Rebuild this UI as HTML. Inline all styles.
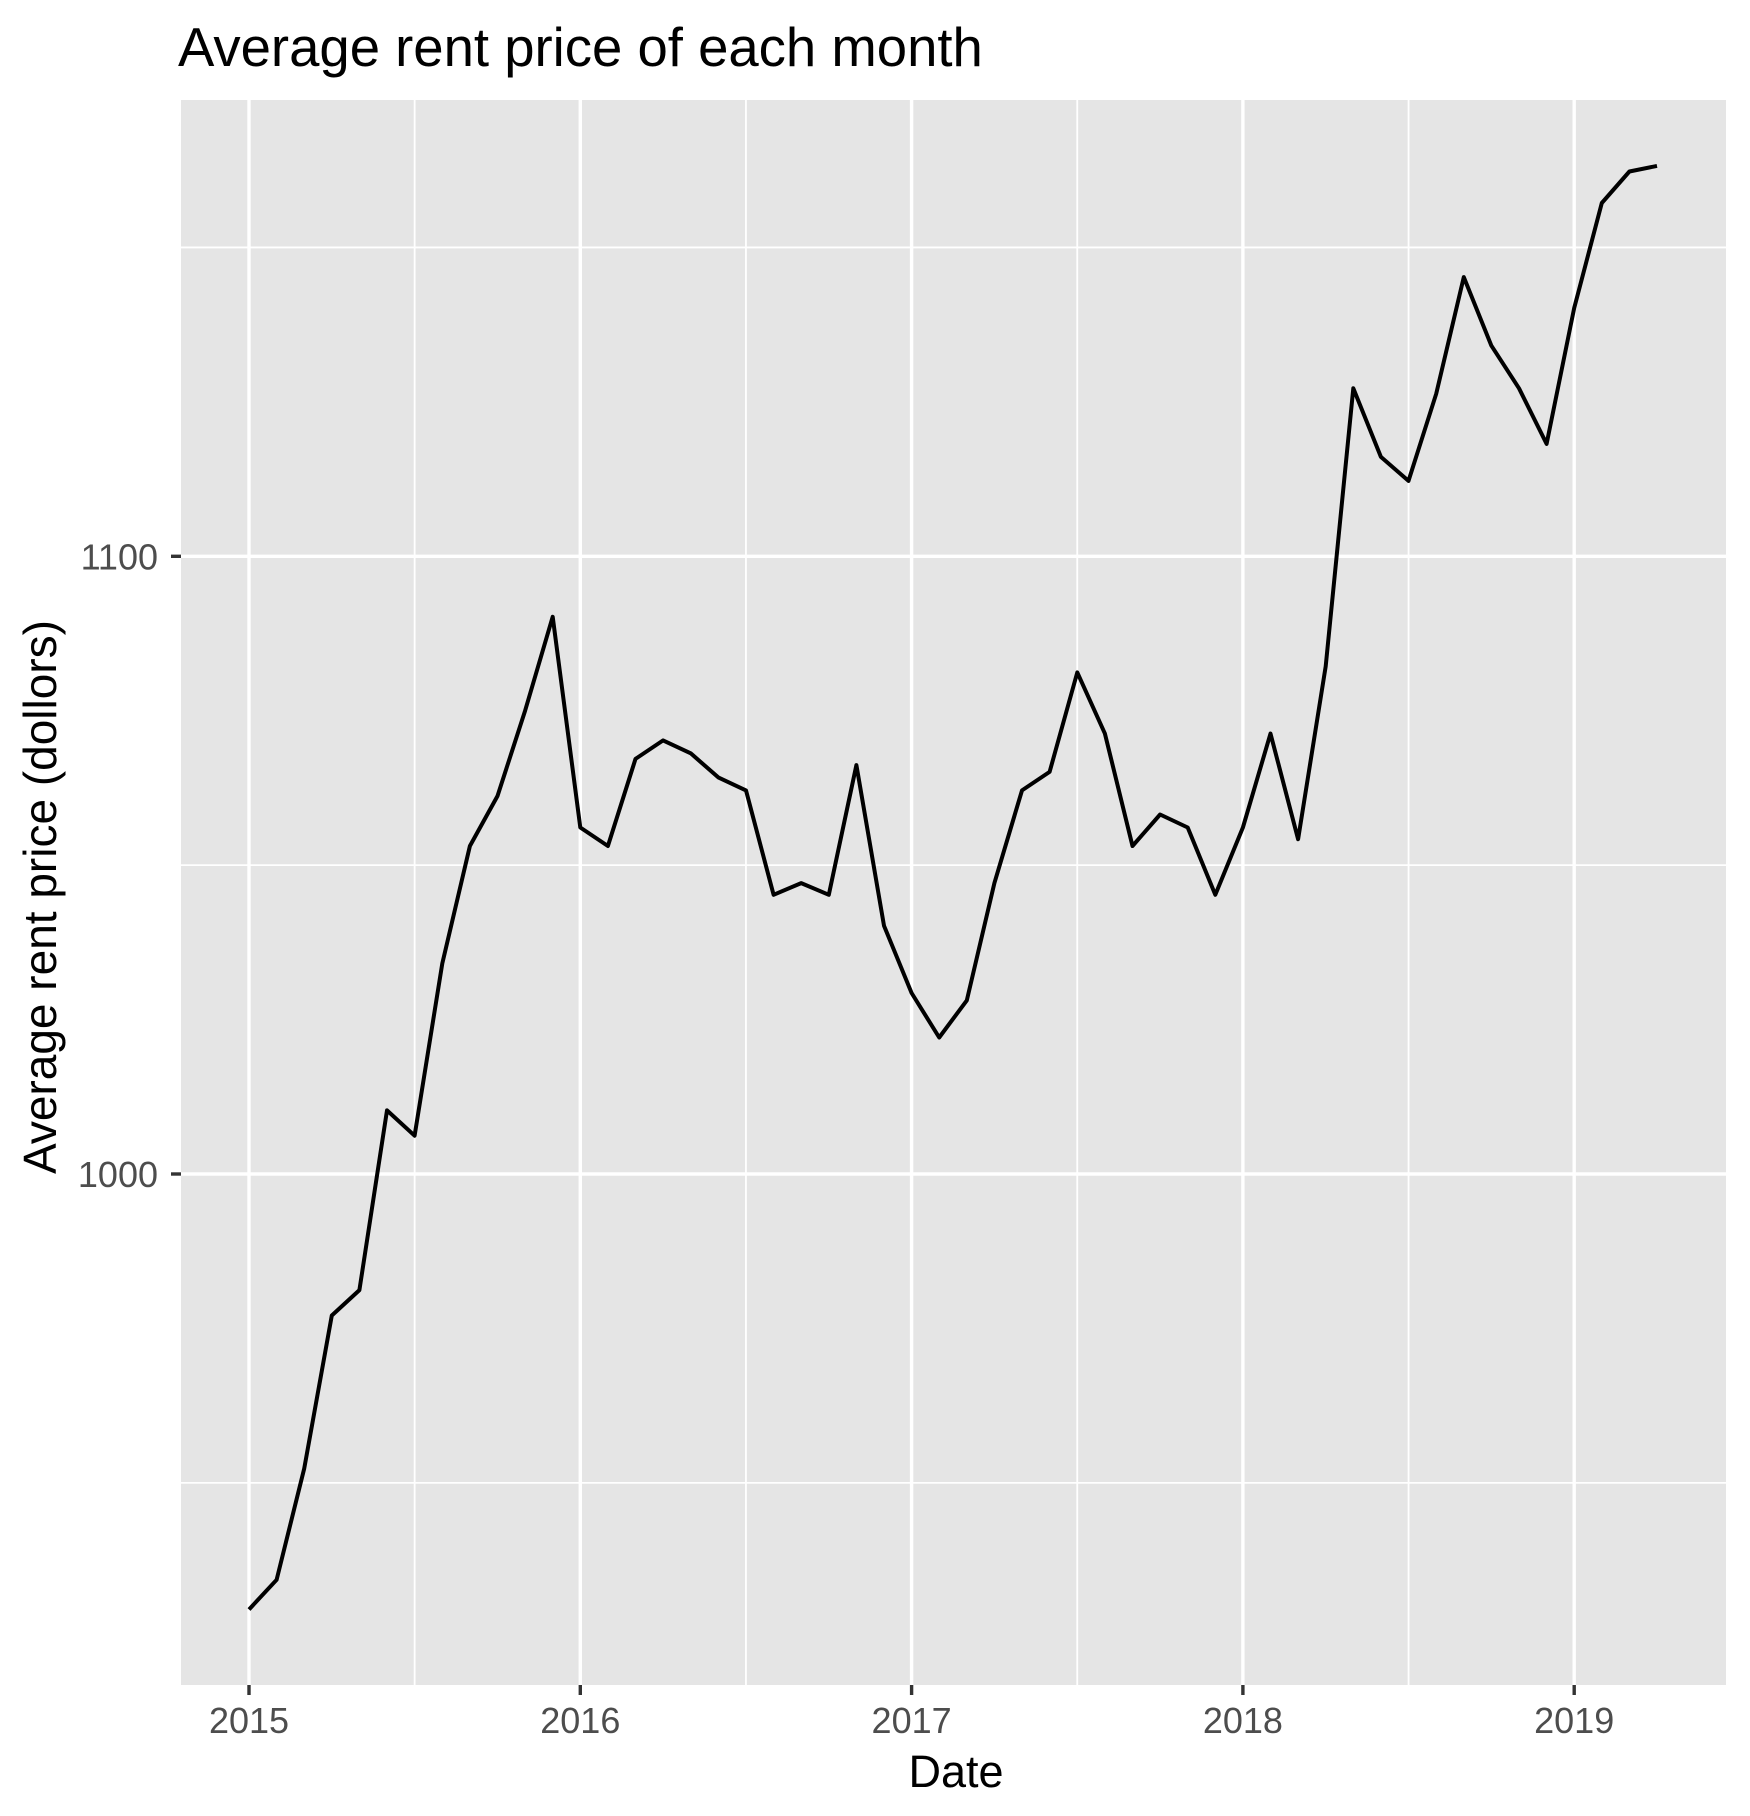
<!DOCTYPE html>
<html><head><meta charset="utf-8"><style>
html,body{margin:0;padding:0;background:#fff;}
svg{display:block;font-family:"Liberation Sans",Arial,sans-serif;}
</style></head><body>
<svg id="chart" width="1750" height="1816" viewBox="0 0 1750 1816">
<text x="178" y="66" font-size="54.5" fill="#000">Average rent price of each month</text>
<rect x="181" y="100" width="1545" height="1585" fill="#e5e5e5"/>
<g id="grid"></g>
<g id="axes"></g>
<path id="line" fill="none" stroke="#000" stroke-width="4" stroke-linejoin="round"/>
<text x="956" y="1787" font-size="45" text-anchor="middle" fill="#000">Date</text>
<text transform="translate(56,897) rotate(-90)" font-size="46" text-anchor="middle" fill="#000">Average rent price (dollors)</text>
</svg>
<script>
const startYear = 2015;
const values = [929.5,934.3,952.3,977.1,981.2,1010.3,1006.2,1034.1,1053.1,1061.2,1075.0,1090.2,
1056.1,1053.1,1067.2,1070.2,1068.1,1064.2,1062.1,1045.2,1047.1,1045.2,1066.2,1040.2,
1029.3,1022.1,1028.1,1047.1,1062.1,1065.1,1081.2,1071.3,1053.1,1058.2,1056.1,1045.2,
1056.1,1071.3,1054.2,1082.2,1127.2,1116.1,1112.2,1126.3,1145.2,1134.1,1127.2,1118.2,
1140.2,1157.2,1162.3,1163.2];
const xTicks = [2015,2016,2017,2018,2019];
const xMinor = [2015.5,2016.5,2017.5,2018.5];
const yTicks = [1000,1100];
const yMinor = [950,1050,1150];
const ns = "http://www.w3.org/2000/svg";
const L=181,R=1726,T=100,B=1685;
function xs(t){return 249 + (t-2015)*331.3;}
function ys(v){return 1174 - (v-1000)*6.177;}
const grid=document.getElementById('grid'), axes=document.getElementById('axes');
function ln(parent,x1,y1,x2,y2,stroke,w,name){
  const e=document.createElementNS(ns,'line');
  e.setAttribute('x1',x1);e.setAttribute('y1',y1);e.setAttribute('x2',x2);e.setAttribute('y2',y2);
  e.setAttribute('stroke',stroke);e.setAttribute('stroke-width',w);
  
  
  parent.appendChild(e);
}
function tx(parent,x,y,s,anchor,name){
  const e=document.createElementNS(ns,'text');
  e.setAttribute('x',x);e.setAttribute('y',y);e.setAttribute('font-size','36');
  e.setAttribute('fill','#4d4d4d');e.setAttribute('text-anchor',anchor);
  e.textContent=s;
  
  
  parent.appendChild(e);
}
yMinor.forEach(v=>ln(grid,L,ys(v),R,ys(v),'#fff',1.8,'y-minor-gridline'));
xMinor.forEach(v=>ln(grid,xs(v),T,xs(v),B,'#fff',1.8,'x-minor-gridline'));
yTicks.forEach(v=>{ln(grid,L,ys(v),R,ys(v),'#fff',3.4,'y-major-gridline');
  ln(axes,171,ys(v),181,ys(v),'#333',3.4,'y-tick');
  tx(axes,158,ys(v)+13,String(v),'end','y-tick-label');});
xTicks.forEach(v=>{ln(grid,xs(v),T,xs(v),B,'#fff',3.4,'x-major-gridline');
  ln(axes,xs(v),B,xs(v),B+10,'#333',3.4,'x-tick');
  tx(axes,xs(v),B+48,String(v),'middle','x-tick-label');});
let d='';
values.forEach((v,i)=>{d+=(i?'L':'M')+xs(startYear+i/12).toFixed(1)+','+ys(v).toFixed(1);});
document.getElementById('line').setAttribute('d',d);
</script>
</body></html>
